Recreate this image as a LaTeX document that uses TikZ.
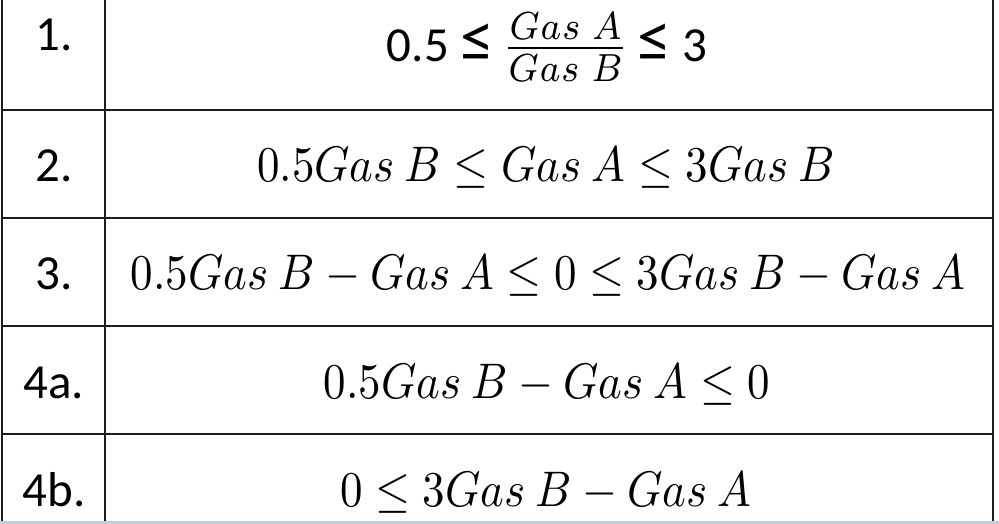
\documentclass[tikz,border=0pt]{standalone}
\usepackage{amsmath}
\usepackage{amssymb}
\usepackage{graphicx}
\usepackage{fontspec}
\setmainfont{Carlito}
\usepackage{tikz}
\definecolor{gridline}{RGB}{28,28,28}
\definecolor{edgeblue}{RGB}{200,204,216}
\newcommand{\bigle}{{\fontsize{68}{70}\selectfont ≤}}

\begin{document}
\begin{tikzpicture}[x=1pt,y=-1pt,every node/.style={inner sep=0pt,anchor=base},
    numcell/.style={font=\fontsize{49}{59}\selectfont},
    mathcell/.style={font=\normalsize,xscale=4.5,yscale=5.0}]
          \useasboundingbox (0,0) rectangle (999,524);
          \fill[white] (0,0) rectangle (999,524);
          \fill[edgeblue] (0,520.5) rectangle (999,523.5);

          \draw[gridline, line width=2pt] (1.5,0) -- (1.5,521);
          \draw[gridline, line width=2pt] (105,0) -- (105,521);
          \draw[gridline, line width=2pt] (993,0) -- (993,521);
          \foreach \y in {110,218,326,434}
            \draw[gridline, line width=2pt] (1.5,\y) -- (993,\y);

          \node[numcell] (LabelOne) at (54,51) {1.};
          \node[numcell] (LabelTwo) at (54,182) {2.};
          \node[numcell] (LabelThree) at (54,289) {3.};
          \node[numcell] (LabelFourA) at (54,398) {4a.};
          \node[numcell] (LabelFourB) at (54,506) {4b.};

          \node[numcell] (RuleOne) at (547,62) {0.5 \bigle\,\scalebox{5.0}[5.6]{\normalsize$\frac{Gas\ A}{Gas\ B}$}\,\bigle\ 3};
          \node[mathcell] (RuleTwo) at (546,182) {$0.5Gas\ B \leq Gas\ A \leq 3Gas\ B$};
          \node[mathcell] (RuleThree) at (548,289) {$0.5Gas\ B - Gas\ A \leq 0 \leq 3Gas\ B - Gas\ A$};
          \node[mathcell] (RuleFourA) at (547,398) {$0.5Gas\ B - Gas\ A \leq 0$};
          \node[mathcell] (RuleFourB) at (546,506) {$0 \leq 3Gas\ B - Gas\ A$};
        \end{tikzpicture}
\end{document}
